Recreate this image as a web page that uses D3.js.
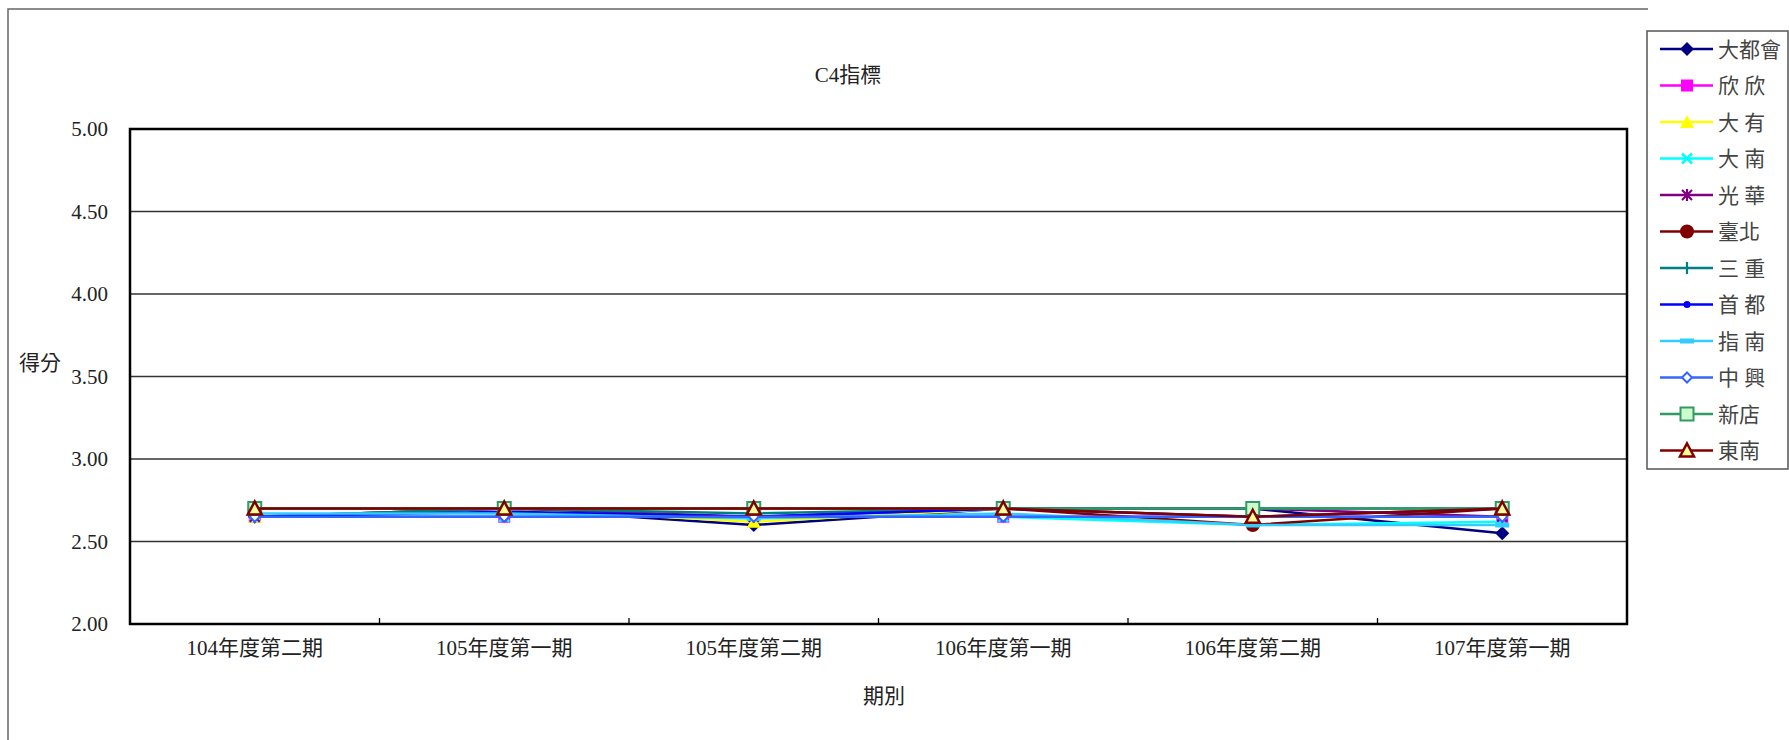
<!DOCTYPE html>
<html><head><meta charset="utf-8">
<script src="https://cdn.jsdelivr.net/npm/d3@7"></script>
<style>body{margin:0;background:#fff}svg{display:block}</style>
</head><body>
<svg id="c" width="1789" height="740"></svg>
<script>
const categories = ["104年度第二期","105年度第一期","105年度第二期","106年度第一期","106年度第二期","107年度第一期"];
const seriesNames = ["大都會","欣 欣","大 有","大 南","光 華","臺北","三 重","首 都","指 南","中 興","新店","東南"];
const s大都會 = [2.65, 2.70, 2.60, 2.70, 2.70, 2.55];
const s欣欣   = [2.65, 2.65, 2.65, 2.65, 2.65, 2.65];
const s大有   = [2.65, 2.70, 2.62, 2.70, 2.65, 2.70];
const s大南   = [2.65, 2.65, 2.65, 2.65, 2.60, 2.62];
const s光華   = [2.65, 2.70, 2.65, 2.70, 2.70, 2.65];
const s臺北   = [2.70, 2.70, 2.70, 2.70, 2.60, 2.70];
const s三重   = [2.65, 2.70, 2.67, 2.70, 2.70, 2.70];
const s首都   = [2.65, 2.68, 2.65, 2.70, 2.65, 2.70];
const s指南   = [2.67, 2.67, 2.64, 2.67, 2.60, 2.60];
const s中興   = [2.65, 2.65, 2.65, 2.65, 2.65, 2.65];
const s新店   = [2.70, 2.70, 2.70, 2.70, 2.70, 2.70];
const s東南   = [2.70, 2.70, 2.70, 2.70, 2.65, 2.70];
const seriesValues = [s大都會,s欣欣,s大有,s大南,s光華,s臺北,s三重,s首都,s指南,s中興,s新店,s東南];
const yTicks = [2.0, 2.5, 3.0, 3.5, 4.0, 4.5, 5.0];

const styles = [
  {c:"#000080", m:"diamond", f:"#000080"},
  {c:"#FF00FF", m:"square", f:"#FF00FF"},
  {c:"#FFFF00", m:"triangle", f:"#FFFF00"},
  {c:"#00FFFF", m:"x", f:"none"},
  {c:"#800080", m:"star", f:"none"},
  {c:"#800000", m:"circle", f:"#800000"},
  {c:"#008080", m:"plus", f:"none"},
  {c:"#0000FF", m:"dot", f:"#0000FF"},
  {c:"#33CCFF", m:"dash", f:"#33CCFF"},
  {c:"#3366FF", m:"odiamond", f:"#ffffff"},
  {c:"#339966", m:"osquare", f:"#CCFFCC"},
  {c:"#800000", m:"otriangle", f:"#FFFF99"}
];

const svg = d3.select("#c");
const serif = "'Liberation Serif','Noto Sans CJK TC',serif";
const cjk = "'Liberation Serif','Noto Sans CJK TC',sans-serif";
const L = 130, R = 1627, T = 129, B = 624;

// outer frame
svg.append("path").attr("d", `M8,740 L8,9 L1648,9`).attr("fill","none").attr("stroke","#666").attr("stroke-width",1.5);

const x = d3.scaleBand().domain(categories).range([L, R]).padding(0);
const y = d3.scaleLinear().domain([2, 5]).range([B, T]);

// gridlines
svg.append("g").selectAll("line").data(yTicks.filter(t => t > 2 && t < 5)).join("line")
  .attr("x1", L).attr("x2", R).attr("y1", d => y(d)).attr("y2", d => y(d))
  .attr("stroke", "#333").attr("stroke-width", 1.3);

// y axis labels
const yAxis = d3.axisLeft(y).tickValues(yTicks).tickFormat(d3.format(".2f")).tickSize(0).tickPadding(22);
const gy = svg.append("g").attr("transform", `translate(${L},0)`).call(yAxis);
gy.select(".domain").remove();
gy.selectAll("text").attr("font-family", serif).attr("font-size", 21).attr("fill", "#222");

// x axis labels
const xAxis = d3.axisBottom(x).tickSize(0).tickPadding(16);
const gx = svg.append("g").attr("transform", `translate(0,${B})`).call(xAxis);
gx.select(".domain").remove();
gx.selectAll("text").attr("font-family", cjk).attr("font-size", 21).attr("fill", "#222");

// x ticks inside at band boundaries
svg.append("g").selectAll("line").data(categories.slice(1)).join("line")
  .attr("x1", d => x(d)).attr("x2", d => x(d)).attr("y1", B).attr("y2", B - 6)
  .attr("stroke", "#000").attr("stroke-width", 1.3);

// plot border
svg.append("rect").attr("x", L).attr("y", T).attr("width", R - L).attr("height", B - T)
  .attr("fill", "none").attr("stroke", "#000").attr("stroke-width", 2.5);

function drawMarker(g, st, cx, cy) {
  const c = st.c;
  switch (st.m) {
    case "diamond":
      g.append("path").attr("d", `M${cx},${cy-7}L${cx+7},${cy}L${cx},${cy+7}L${cx-7},${cy}Z`).attr("fill", c); break;
    case "odiamond":
      g.append("path").attr("d", `M${cx},${cy-5}L${cx+5},${cy}L${cx},${cy+5}L${cx-5},${cy}Z`).attr("fill", st.f).attr("stroke", c).attr("stroke-width", 2); break;
    case "square":
      g.append("rect").attr("x", cx-6).attr("y", cy-6).attr("width", 12).attr("height", 12).attr("fill", c); break;
    case "osquare":
      g.append("rect").attr("x", cx-6.5).attr("y", cy-6.5).attr("width", 13).attr("height", 13).attr("fill", st.f).attr("stroke", c).attr("stroke-width", 2); break;
    case "triangle":
      g.append("path").attr("d", `M${cx},${cy-7}L${cx+7},${cy+6}L${cx-7},${cy+6}Z`).attr("fill", c); break;
    case "otriangle":
      g.append("path").attr("d", `M${cx},${cy-7}L${cx+7},${cy+6}L${cx-7},${cy+6}Z`).attr("fill", st.f).attr("stroke", c).attr("stroke-width", 2.5).attr("stroke-linejoin","miter"); break;
    case "circle":
      g.append("circle").attr("cx", cx).attr("cy", cy).attr("r", 7).attr("fill", c); break;
    case "dot":
      g.append("circle").attr("cx", cx).attr("cy", cy).attr("r", 3.5).attr("fill", c); break;
    case "dash":
      g.append("rect").attr("x", cx-7).attr("y", cy-2.5).attr("width", 14).attr("height", 5).attr("fill", c); break;
    case "x":
      g.append("path").attr("d", `M${cx-5},${cy-5}L${cx+5},${cy+5}M${cx+5},${cy-5}L${cx-5},${cy+5}`).attr("stroke", c).attr("stroke-width", 2.5); break;
    case "star":
      g.append("path").attr("d", `M${cx-5},${cy-5}L${cx+5},${cy+5}M${cx+5},${cy-5}L${cx-5},${cy+5}M${cx},${cy-6}L${cx},${cy+6}`).attr("stroke", c).attr("stroke-width", 2.2); break;
    case "plus":
      g.append("path").attr("d", `M${cx-6},${cy}L${cx+6},${cy}M${cx},${cy-6}L${cx},${cy+6}`).attr("stroke", c).attr("stroke-width", 2.2); break;
  }
}

const line = d3.line().x((d, i) => x(categories[i]) + x.bandwidth() / 2).y(d => y(d));
const plot = svg.append("g");
seriesValues.forEach((vals, si) => {
  const st = styles[si];
  const g = plot.append("g");
  g.append("path").datum(vals).attr("d", line).attr("fill", "none").attr("stroke", st.c).attr("stroke-width", 2.5);
  vals.forEach((v, i) => drawMarker(g, st, x(categories[i]) + x.bandwidth() / 2, y(v)));
});

// titles
svg.append("text").attr("x", 848).attr("y", 82).attr("text-anchor", "middle")
  .attr("font-family", cjk).attr("font-size", 21).attr("fill", "#222").text("C4指標");
svg.append("text").attr("x", 40).attr("y", 370).attr("text-anchor", "middle")
  .attr("font-family", cjk).attr("font-size", 21).attr("fill", "#222").text("得分");
svg.append("text").attr("x", 884).attr("y", 703).attr("text-anchor", "middle")
  .attr("font-family", cjk).attr("font-size", 21).attr("fill", "#222").text("期別");

// legend
svg.append("rect").attr("x", 1647).attr("y", 31).attr("width", 141).attr("height", 438)
  .attr("fill", "#fff").attr("stroke", "#555").attr("stroke-width", 1.5);
seriesNames.forEach((n, i) => {
  const ly = 49 + i * 36.5;
  const st = styles[i];
  const g = svg.append("g");
  g.append("line").attr("x1", 1660).attr("x2", 1713).attr("y1", ly).attr("y2", ly).attr("stroke", st.c).attr("stroke-width", 2.5);
  drawMarker(g, st, 1687, ly);
  g.append("text").attr("x", 1718).attr("y", ly + 7.5).attr("font-family", cjk).attr("font-size", 21)
    .attr("fill", "#444").text(n);
});
</script>
</body></html>
